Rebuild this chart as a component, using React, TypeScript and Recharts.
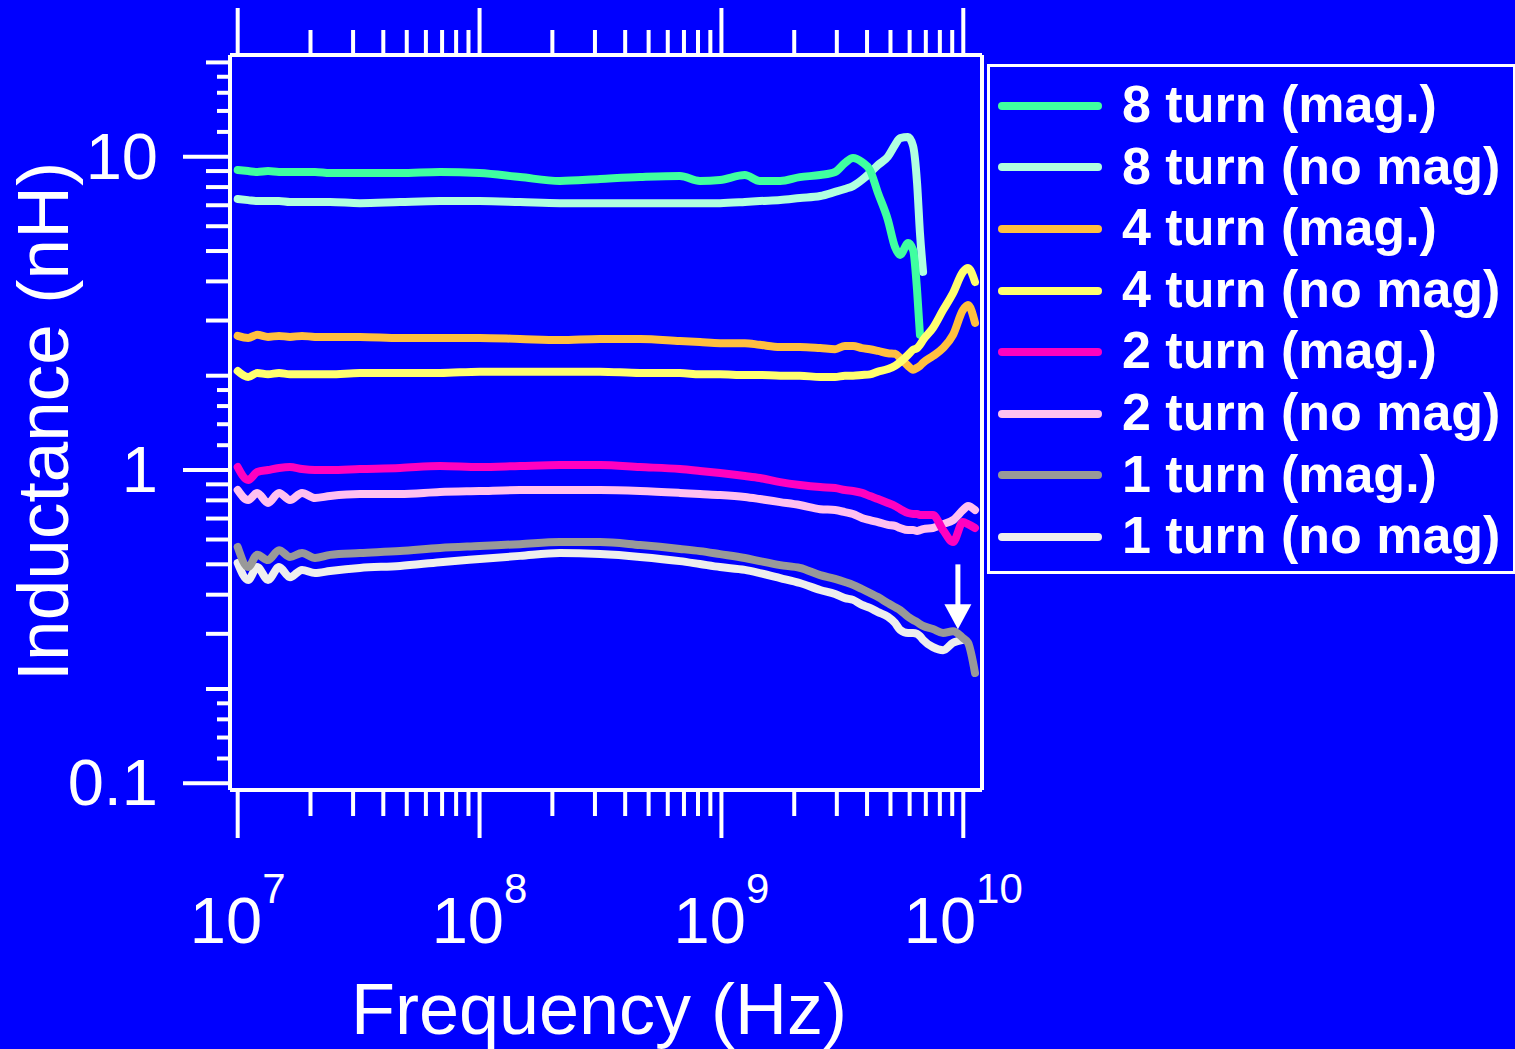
import { LineChart, Line, XAxis, YAxis, Legend, ReferenceDot } from 'recharts'

const FONT = '"Liberation Sans", Arial, Helvetica, sans-serif'
const BG = '#0000FF'
const FG = '#FFFFFF'

// frequency grid (Hz)
const freqHz = [
  1.0e7, 1.105e7, 1.204e7, 1.335e7, 1.482e7, 1.645e7, 1.845e7, 2.087e7, 2.41e7, 3.2e7,
  4.69e7, 6.86e7, 1.0e8, 1.47e8, 2.15e8, 3.15e8, 4.61e8, 6.74e8, 8.15e8, 9.87e8,
  1.25e9, 1.44e9, 1.75e9, 2.11e9, 2.56e9, 2.95e9, 3.24e9, 3.5e9, 3.81e9, 4.11e9,
  4.44e9, 4.88e9, 5.22e9, 5.48e9, 5.91e9, 6.2e9, 6.44e9, 6.62e9, 6.82e9, 7.49e9,
  8.25e9, 9.07e9, 9.97e9, 1.046e10, 1.118e10,
]

// inductance (nH)
const turn8Mag = [
  9.07, 9.0, 8.94, 9.0, 8.94, 8.94, 8.94, 8.94, 8.87, 8.87,
  8.87, 8.94, 8.87, 8.61, 8.37, 8.49, 8.61, 8.68, 8.37, 8.43,
  8.74, 8.37, 8.37, 8.61, 8.74, 8.94, 9.55, 9.91, 9.62, 9.07,
  7.66, 6.28, 5.15, 4.86, 5.3, 5.04, 3.75, 2.7, null, null,
  null, null, null, null, null,
]
const turn8NoMag = [
  7.33, 7.27, 7.22, 7.22, 7.22, 7.17, 7.17, 7.17, 7.17, 7.11,
  7.17, 7.22, 7.22, 7.17, 7.11, 7.11, 7.11, 7.11, 7.11, 7.11,
  7.17, 7.22, 7.27, 7.38, 7.49, 7.72, 7.89, 8.06, 8.43, 8.87,
  9.41, 10.01, 10.9, 11.47, 11.56, 10.82, 8.24, 5.71, 4.29, null,
  null, null, null, null, null,
]
const turn4Mag = [
  2.68, 2.64, 2.7, 2.66, 2.68, 2.66, 2.68, 2.66, 2.66, 2.66,
  2.64, 2.64, 2.64, 2.62, 2.6, 2.62, 2.62, 2.58, 2.56, 2.54,
  2.54, 2.51, 2.47, 2.47, 2.45, 2.43, 2.49, 2.49, 2.45, 2.43,
  2.4, 2.36, 2.35, 2.28, 2.15, 2.09, 2.12, 2.15, 2.2, 2.31,
  2.45, 2.7, 3.24, 3.36, 2.95,
]
const turn4NoMag = [
  2.07, 1.98, 2.04, 2.02, 2.04, 2.02, 2.02, 2.02, 2.02, 2.04,
  2.04, 2.04, 2.06, 2.06, 2.06, 2.06, 2.04, 2.04, 2.02, 2.02,
  2.01, 2.01, 2.0, 2.0, 1.98, 1.98, 2.0, 2.0, 2.01, 2.02,
  2.06, 2.1, 2.15, 2.21, 2.33, 2.42, 2.45, 2.51, 2.6, 2.84,
  3.24, 3.67, 4.29, 4.41, 3.98,
]
const turn2Mag = [
  1.022, 0.929, 0.985, 1.0, 1.015, 1.022, 1.007, 1.0, 1.0, 1.007,
  1.015, 1.03, 1.022, 1.03, 1.037, 1.037, 1.022, 1.007, 0.993, 0.978,
  0.957, 0.943, 0.915, 0.896, 0.882, 0.876, 0.863, 0.857, 0.845, 0.826,
  0.808, 0.785, 0.768, 0.751, 0.729, 0.724, 0.724, 0.718, 0.718, 0.718,
  0.643, 0.589, 0.682, 0.672, 0.653,
]
const turn2NoMag = [
  0.863, 0.802, 0.845, 0.785, 0.845, 0.802, 0.845, 0.814, 0.826, 0.838,
  0.838, 0.851, 0.857, 0.863, 0.863, 0.863, 0.857, 0.845, 0.838, 0.832,
  0.82, 0.808, 0.79, 0.773, 0.75, 0.745, 0.734, 0.724, 0.703, 0.692,
  0.682, 0.668, 0.663, 0.653, 0.643, 0.643, 0.639, 0.643, 0.648, 0.653,
  0.672, 0.692, 0.745, 0.768, 0.745,
]
const turn1Mag = [
  0.568, 0.49, 0.536, 0.516, 0.555, 0.528, 0.543, 0.524, 0.536, 0.543,
  0.551, 0.564, 0.572, 0.58, 0.589, 0.589, 0.576, 0.56, 0.551, 0.539,
  0.524, 0.512, 0.497, 0.487, 0.462, 0.449, 0.439, 0.43, 0.417, 0.405,
  0.393, 0.376, 0.365, 0.357, 0.34, 0.332, 0.327, 0.322, 0.318, 0.311,
  0.302, 0.306, 0.291, 0.281, 0.225,
]
const turn1NoMag = [
  0.505, 0.446, 0.49, 0.446, 0.49, 0.455, 0.48, 0.469, 0.476, 0.487,
  0.494, 0.508, 0.52, 0.532, 0.543, 0.539, 0.528, 0.512, 0.501, 0.49,
  0.48, 0.469, 0.452, 0.436, 0.414, 0.402, 0.39, 0.385, 0.371, 0.363,
  0.352, 0.34, 0.325, 0.309, 0.302, 0.302, 0.3, 0.295, 0.287, 0.272,
  0.266, 0.281, 0.287, null, null,
]

const SERIES = [
  { key: 'turn8Mag', name: '8 turn (mag.)', color: '#40FFA0', values: turn8Mag },
  { key: 'turn8NoMag', name: '8 turn (no mag)', color: '#B0FFE0', values: turn8NoMag },
  { key: 'turn4Mag', name: '4 turn (mag.)', color: '#FFBF40', values: turn4Mag },
  { key: 'turn4NoMag', name: '4 turn (no mag)', color: '#FFFF70', values: turn4NoMag },
  { key: 'turn2Mag', name: '2 turn (mag.)', color: '#FF00C0', values: turn2Mag },
  { key: 'turn2NoMag', name: '2 turn (no mag)', color: '#FFC0F0', values: turn2NoMag },
  { key: 'turn1Mag', name: '1 turn (mag.)', color: '#999999', values: turn1Mag },
  { key: 'turn1NoMag', name: '1 turn (no mag)', color: '#EEEEEE', values: turn1NoMag },
]
// which line sits on top of which
const DRAW_ORDER = ['turn8NoMag', 'turn8Mag', 'turn4Mag', 'turn4NoMag', 'turn2NoMag', 'turn2Mag', 'turn1NoMag', 'turn1Mag']

const xDomain = [9.294e6, 1.195e10]
const yDomain = [0.0952, 21.12]

const xTicks = [
  1e7, 2e7, 3e7, 4e7, 5e7, 6e7, 7e7, 8e7, 9e7,
  1e8, 2e8, 3e8, 4e8, 5e8, 6e8, 7e8, 8e8, 9e8,
  1e9, 2e9, 3e9, 4e9, 5e9, 6e9, 7e9, 8e9, 9e9,
  1e10,
]
const xMajor = [1e7, 1e8, 1e9, 1e10]
const xExponents = ['7', '8', '9', '10']

const yTicks = [
  0.1, 0.12, 0.14, 0.16, 0.18, 0.2, 0.3, 0.4, 0.5, 0.6, 0.7, 0.8, 0.9,
  1, 1.2, 1.4, 1.6, 1.8, 2, 3, 4, 5, 6, 7, 8, 9,
  10, 12, 14, 16, 18, 20,
]
const yMajor = [0.1, 1, 10]
const yMajorLabels = ['0.1', '1', '10']
const yShort = [0.12, 0.14, 0.16, 0.18, 1.2, 1.4, 1.6, 1.8, 12, 14, 16, 18]

// arrow annotation tip (points at the 1 turn curves)
const arrowTip = { f: 9.5e9, l: 0.31 }

const chartData = freqHz.map((f, i) => {
  const row: Record<string, number | null> = { f }
  SERIES.forEach((s) => {
    row[s.key] = s.values[i]
  })
  return row
})

const near = (a: number, b: number) => Math.abs(a - b) / b < 1e-6
const indexIn = (list: number[], v: number) => list.findIndex((m) => near(v, m))

function BottomTick({ x, y, payload }: any) {
  const i = indexIn(xMajor, payload.value)
  const major = i >= 0
  return (
    <g>
      <line x1={x} y1={y} x2={x} y2={y + (major ? 48 : 26)} stroke={FG} strokeWidth={4} />
      {major && (
        <text x={x} y={y + 153} textAnchor="middle" fill={FG} fontSize={65} fontFamily={FONT}>
          10
          <tspan dy={-40} fontSize={42}>
            {xExponents[i]}
          </tspan>
        </text>
      )}
    </g>
  )
}

function TopTick({ x, y, payload }: any) {
  const major = indexIn(xMajor, payload.value) >= 0
  return <line x1={x} y1={y} x2={x} y2={y - (major ? 47 : 25)} stroke={FG} strokeWidth={4} />
}

function LeftTick({ x, y, payload }: any) {
  const i = indexIn(yMajor, payload.value)
  const short = indexIn(yShort, payload.value) >= 0
  const len = i >= 0 ? 47 : short ? 13 : 24
  return (
    <g>
      <line x1={x} y1={y} x2={x - len} y2={y} stroke={FG} strokeWidth={4} />
      {i >= 0 && (
        <text x={x - 72} y={y + 22} textAnchor="end" fill={FG} fontSize={65} fontFamily={FONT}>
          {yMajorLabels[i]}
        </text>
      )}
    </g>
  )
}

function XTitle({ viewBox }: any) {
  const { x, y, width } = viewBox
  return (
    <text x={x + width / 2 - 7} y={y + 244} textAnchor="middle" fill={FG} fontSize={72} fontFamily={FONT}>
      Frequency (Hz)
    </text>
  )
}

function YTitle({ viewBox }: any) {
  const { x, y, height } = viewBox
  const tx = x - 102
  const ty = y + height / 2 - 1
  return (
    <text
      x={tx}
      y={ty}
      transform={`rotate(-90 ${tx} ${ty})`}
      textAnchor="middle"
      fill={FG}
      fontSize={73}
      fontFamily={FONT}
    >
      Inductance (nH)
    </text>
  )
}

function Arrow({ cx, cy }: any) {
  return (
    <g>
      <line x1={cx} y1={cy - 65} x2={cx} y2={cy - 24} stroke={FG} strokeWidth={5} />
      <polygon points={`${cx - 13.5},${cy - 25} ${cx + 13.5},${cy - 25} ${cx},${cy}`} fill={FG} />
    </g>
  )
}

function LegendBox() {
  return (
    <div
      style={{
        boxSizing: 'border-box',
        width: '100%',
        height: '100%',
        border: `3px solid ${FG}`,
        paddingTop: 8,
        background: BG,
      }}
    >
      {SERIES.map((s) => (
        <div key={s.key} style={{ position: 'relative', height: 61.6 }}>
          <div
            style={{
              position: 'absolute',
              left: 8,
              top: 26.8,
              width: 104,
              height: 8,
              borderRadius: 4,
              background: s.color,
            }}
          />
          <div
            style={{
              position: 'absolute',
              left: 132,
              top: 3,
              lineHeight: '52px',
              fontSize: 52,
              fontWeight: 'bold',
              fontFamily: FONT,
              color: FG,
              whiteSpace: 'nowrap',
            }}
          >
            {s.name}
          </div>
        </div>
      ))}
    </div>
  )
}

export default function App() {
  const ordered = DRAW_ORDER.map((k) => SERIES.find((s) => s.key === k)!)
  return (
    <div style={{ position: 'absolute', left: 0, top: 0, width: 1515, height: 1049, background: BG, overflow: 'hidden' }}>
      <LineChart
        width={1515}
        height={1049}
        data={chartData}
        margin={{ top: 25, right: 523, bottom: 229, left: 170 }}
      >
        <XAxis
          dataKey="f"
          type="number"
          scale="log"
          domain={xDomain}
          allowDataOverflow
          ticks={xTicks}
          interval={0}
          height={30}
          tickSize={0}
          tickMargin={0}
          tickLine={false}
          axisLine={{ stroke: FG, strokeWidth: 4 }}
          tick={<BottomTick />}
          label={<XTitle />}
        />
        <XAxis
          xAxisId="top"
          orientation="top"
          dataKey="f"
          type="number"
          scale="log"
          domain={xDomain}
          allowDataOverflow
          ticks={xTicks}
          interval={0}
          height={30}
          tickSize={0}
          tickMargin={0}
          tickLine={false}
          axisLine={{ stroke: FG, strokeWidth: 4 }}
          tick={<TopTick />}
        />
        <YAxis
          type="number"
          scale="log"
          domain={yDomain}
          allowDataOverflow
          ticks={yTicks}
          interval={0}
          width={60}
          tickSize={0}
          tickMargin={0}
          tickLine={false}
          axisLine={{ stroke: FG, strokeWidth: 4 }}
          tick={<LeftTick />}
          label={<YTitle />}
        />
        <YAxis
          yAxisId="right"
          orientation="right"
          type="number"
          scale="log"
          domain={yDomain}
          allowDataOverflow
          width={10}
          tick={false}
          tickLine={false}
          axisLine={{ stroke: FG, strokeWidth: 4 }}
        />
        {ordered.map((s) => (
          <Line
            key={s.key}
            dataKey={s.key}
            name={s.name}
            type="monotone"
            stroke={s.color}
            strokeWidth={8}
            strokeLinecap="round"
            strokeLinejoin="round"
            dot={false}
            activeDot={false}
            isAnimationActive={false}
          />
        ))}
        <ReferenceDot
          x={arrowTip.f}
          y={arrowTip.l}
          r={0}
          fill="none"
          stroke="none"
          shape={(p: any) => <Arrow cx={p.cx} cy={p.cy} />}
        />
        <Legend
          layout="vertical"
          align="center"
          verticalAlign="middle"
          wrapperStyle={{ left: 987, top: 64, width: 529, height: 510 }}
          content={() => <LegendBox />}
        />
      </LineChart>
    </div>
  )
}
